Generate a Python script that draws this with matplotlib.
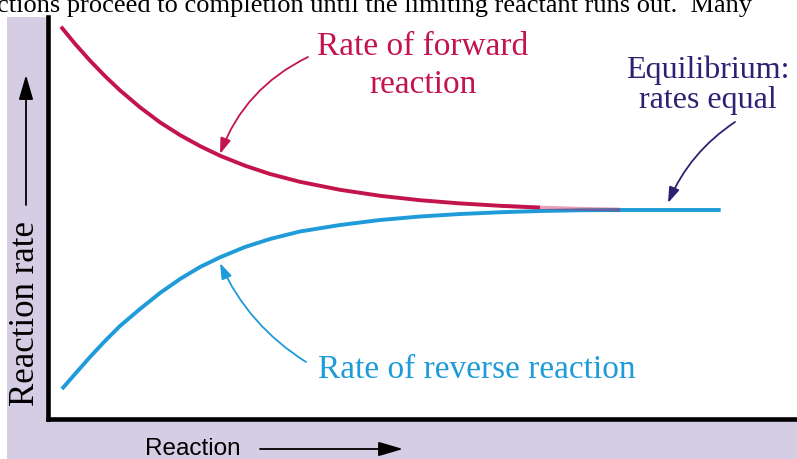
import matplotlib
matplotlib.use("Agg")
import matplotlib.pyplot as plt
from matplotlib.patches import Rectangle, FancyArrowPatch

# ---------------- data ----------------
progress_fwd = [1.80, 3.67, 5.67, 7.67, 9.67, 12.34, 15.01, 17.68, 20.35, 23.02, 26.35,
                29.69, 33.69, 39.03, 44.36, 49.70, 55.04, 60.37, 65.71, 71.05, 76.38]
rate_fwd = [97.58, 93.33, 89.14, 85.28, 81.74, 77.51, 73.77, 70.59, 67.85, 65.45, 62.97,
            60.90, 58.95, 56.96, 55.47, 54.37, 53.57, 52.98, 52.53, 52.23, 52.03]

progress_rev = [1.93, 3.67, 5.67, 7.67, 9.67, 12.34, 15.01, 17.68, 20.35, 23.02, 26.35,
                29.69, 33.69, 39.03, 44.36, 49.70, 55.04, 60.37, 65.71, 71.05, 76.38, 89.82]
rate_rev = [7.35, 11.08, 15.32, 19.30, 23.04, 27.27, 31.26, 34.74, 37.73, 40.15, 42.71,
            44.71, 46.58, 48.19, 49.44, 50.31, 50.93, 51.36, 51.68, 51.86, 51.93, 51.93]

title_text = "ctions proceed to completion until the limiting reactant runs out.  Many"
fwd_label = ["Rate of forward", "reaction"]
rev_label = "Rate of reverse reaction"
eq_label = ["Equilibrium:", "rates equal"]
ylabel = "Reaction rate"
xlabel = "Reaction"

# ---------------- style ----------------
W, H = 797, 460
LAV = "#D5CDE3"
FWD = "#C3154C"
REV = "#1E9BD8"
EQ = "#2D2272"
SERIF = ["Liberation Serif", "DejaVu Serif"]
SANS = ["Liberation Sans", "DejaVu Sans"]

fig = plt.figure(figsize=(W / 100, H / 100), dpi=100)
fig.patch.set_facecolor("white")


def fx(px):
    return px / W


def fy(py):
    return 1 - py / H


# lavender panel (behind the axes)
fig.patches.append(Rectangle((fx(7), 0), 1 - fx(7), fy(18), transform=fig.transFigure,
                             facecolor=LAV, edgecolor="none", zorder=-5))

ax = fig.add_axes([fx(47.5), fy(419.5), fx(797) - fx(47.5), fy(18) - fy(419.5)])
ax.set_zorder(1)
ax.set_facecolor("white")
ax.set_xlim(0, 100)
ax.set_ylim(0, 100)
for s in ["top", "right"]:
    ax.spines[s].set_visible(False)
for s in ["left", "bottom"]:
    ax.spines[s].set_linewidth(3.3)
    ax.spines[s].set_color("black")
ax.set_xticks([])
ax.set_yticks([])

line_kw = dict(lw=2.8, solid_capstyle="butt", solid_joinstyle="round")
ax.plot(progress_rev, rate_rev, color=REV, zorder=3, **line_kw)
ax.plot(progress_fwd[:-2], rate_fwd[:-2], color=FWD, zorder=2, **line_kw)
ax.plot(progress_fwd[-4:], rate_fwd[-4:], color=FWD, alpha=0.4, zorder=4, **line_kw)

# top clipped text (cut off in the reference too)
fig.text(fx(-3), fy(12), title_text, fontsize=19, family=SERIF, color="black",
         ha="left", va="baseline", zorder=10)

# annotation texts
txt_kw = dict(family=SERIF, va="baseline", ha="center", zorder=10)
fig.text(fx(423), fy(55), fwd_label[0], fontsize=24, color=FWD, **txt_kw)
fig.text(fx(423), fy(93), fwd_label[1], fontsize=24, color=FWD, **txt_kw)
fig.text(fx(477), fy(378), rev_label, fontsize=24, color=REV, **txt_kw)
fig.text(fx(708), fy(78), eq_label[0], fontsize=23, color=EQ, **txt_kw)
fig.text(fx(708), fy(108), eq_label[1], fontsize=23, color=EQ, **txt_kw)


def arrow(p0, p1, color, rad, lw=1.3, hl=0.47, hw=0.16):
    a = FancyArrowPatch((fx(p0[0]), fy(p0[1])), (fx(p1[0]), fy(p1[1])),
                        transform=fig.transFigure,
                        arrowstyle=f"-|>,head_length={hl},head_width={hw}",
                        connectionstyle=f"arc3,rad={rad}", mutation_scale=20,
                        color=color, lw=lw, shrinkA=0, shrinkB=0, zorder=10)
    fig.patches.append(a)


arrow((308, 58), (220, 155), FWD, 0.2)
arrow((306, 363), (220, 264), REV, -0.15)
arrow((735, 123), (668, 204), EQ, 0.15)

# axis labels with arrows
fig.text(fx(25), fy(406), ylabel, fontsize=25, family=SERIF, color="black",
         rotation=90, ha="center", va="bottom", zorder=10)
arrow((26, 206), (26, 76), "black", 0.0, lw=1.3, hl=0.75, hw=0.22)

fig.text(fx(145), fy(455.5), xlabel, fontsize=17.5, family=SANS, color="black",
         ha="left", va="baseline", zorder=10)
arrow((260, 450), (403, 450), "black", 0.0, lw=1.3, hl=0.75, hw=0.22)

fig.savefig("out.png", dpi=100, facecolor="white")
